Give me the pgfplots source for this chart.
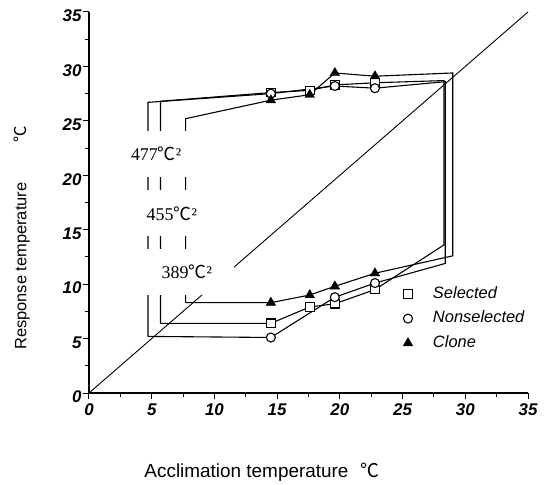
\documentclass[border=0pt]{standalone}
\usepackage{pgfplots}
\pgfplotsset{compat=1.18}
\usepackage{fontspec}
\setmainfont{Liberation Sans}
\newfontfamily\seriffont{Liberation Serif}
\newfontfamily\cjk{Noto Sans CJK SC}
\newcommand{\degC}{{\cjk ℃}}
\begin{document}
\begin{tikzpicture}
\begin{axis}[
  width=439bp, height=381bp, scale only axis,
  xmin=0, xmax=35, ymin=0, ymax=35,
  axis lines=left, axis line style={-, line width=1.3bp},
  xtick={0,5,...,35}, ytick={0,5,...,35},
  minor tick num=1,
  tick align=outside,
  major tick length=6bp, minor tick length=4bp,
  tick style={line width=1bp, black},
  /pgf/number format/assume math mode=true,
  ticklabel style={font=\fontsize{17}{17}\selectfont\bfseries\itshape},
  yticklabel style={xshift=2bp, yshift=-4bp},
  xticklabel style={yshift=-1bp},
  xlabel={Acclimation temperature\hspace{12bp}\degC},
  ylabel={Response temperature\hspace{40bp}\degC},
  xlabel style={at={(axis description cs:0.394,-0.207)}, anchor=center, font=\fontsize{19}{19}\selectfont},
  ylabel style={at={(axis description cs:-0.153,0.407)}, anchor=center, font=\fontsize{16.5}{16.5}\selectfont},
  legend style={at={(0.708,0.289)}, anchor=north west, draw=none, fill=none,
    font=\itshape\fontsize{16.5}{16.5}\selectfont, row sep=6.5bp,
    nodes={inner sep=1bp, text height=12bp, text depth=4bp}, cells={anchor=west}},
  legend image code/.code={\draw[#1] plot coordinates {(0bp,0bp)}; \path[draw=none, fill=none] (-5bp,-6bp) rectangle (24bp,6bp);},
  clip=false,
]
% 1:1 line
\addplot[forget plot, black, line width=0.9bp] coordinates {(0,0) (35,35)};
% Nonselected polygon (477)
\addplot[forget plot, black, line width=1.1bp] coordinates {
 (4.7,5.2) (4.7,26.7) (14.5,27.5) (19.6,28.2) (22.8,28.0) (28.4,28.6)
 (28.4,11.9) (22.8,10.1) (19.6,8.8) (14.5,5.1) (4.7,5.2)};
% Selected polygon (455)
\addplot[forget plot, black, line width=1.1bp] coordinates {
 (5.7,6.4) (5.7,26.8) (14.5,27.6) (17.6,27.8) (19.6,28.3) (22.8,28.5) (28.3,28.7)
 (28.3,13.6) (22.8,9.5) (19.6,8.2) (17.6,7.9) (14.5,6.4) (5.7,6.4)};
% Clone polygon (389)
\addplot[forget plot, black, line width=1.1bp] coordinates {
 (7.7,8.3) (7.7,25.2) (14.5,26.9) (17.6,27.4) (19.6,29.4) (22.8,29.1) (29.0,29.4)
 (29.0,12.6) (22.8,11.0) (19.6,9.8) (17.6,9.0) (14.5,8.3) (7.7,8.3)};
% labels
\node[fill=white, inner sep=0pt, minimum width=70bp, minimum height=46bp,
  font=\seriffont\fontsize{18}{18}\selectfont] at (axis cs:5.35,22.0) {477\degC²};
\node[fill=white, inner sep=0pt, minimum width=70bp, minimum height=46bp,
  font=\seriffont\fontsize{18}{18}\selectfont] at (axis cs:6.6,16.5) {455\degC²};
\node[fill=white, inner sep=0pt, minimum width=95bp, minimum height=46bp,
  font=\seriffont\fontsize{18}{18}\selectfont] at (axis cs:7.8,11.1) {389\degC²};
% markers
\addplot[only marks, mark=square*, mark size=4.3bp, mark options={fill=white, draw=black, line width=1.1bp}]
 coordinates {(14.5,27.6) (17.6,27.8) (19.6,28.3) (22.8,28.5) (14.5,6.4) (17.6,7.9) (19.6,8.2) (22.8,9.5)};
\addlegendentry{Selected}
\addplot[only marks, mark=*, mark size=4.5bp, mark options={fill=white, draw=black, line width=1.1bp}]
 coordinates {(14.5,27.5) (19.6,28.2) (22.8,28.0) (14.5,5.1) (19.6,8.8) (22.8,10.1)};
\addlegendentry{Nonselected}
\addplot[only marks, mark=triangle*, mark size=5.5bp, mark options={fill=black, draw=black}]
 coordinates {(14.5,26.9) (17.6,27.4) (19.6,29.4) (22.8,29.1) (14.5,8.3) (17.6,9.0) (19.6,9.8) (22.8,11.0)};
\addlegendentry{Clone}
\end{axis}
\pgfresetboundingbox
\useasboundingbox (-89bp,-92bp) rectangle (457bp,393bp);
\end{tikzpicture}
\end{document}
